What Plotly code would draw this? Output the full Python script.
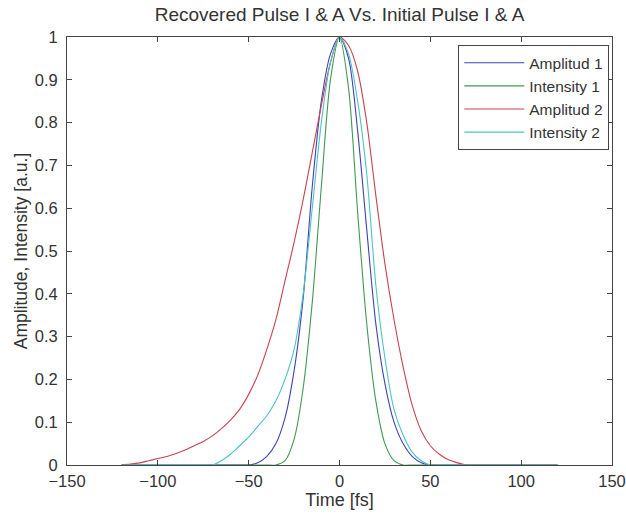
import plotly.graph_objects as go

time_fs = list(range(-120, 125, 5))

amplitud_1 = [0]*14 + [0.0, 0.005, 0.02, 0.05, 0.11, 0.22, 0.39, 0.65, 0.85, 0.96, 1.0,
                       0.95, 0.78, 0.55, 0.33, 0.19, 0.10, 0.05, 0.02, 0.005, 0.0] + [0]*14

intensity_1 = [0]*17 + [0.0, 0.01, 0.06, 0.18, 0.38, 0.65, 0.90, 1.0,
                        0.88, 0.59, 0.33, 0.15, 0.05, 0.01, 0.0] + [0]*17

amplitud_2 = [0.0, 0.002, 0.005, 0.01, 0.015, 0.02, 0.027, 0.035, 0.045, 0.055, 0.068, 0.085,
              0.105, 0.13, 0.165, 0.21, 0.27, 0.34, 0.43, 0.52, 0.62, 0.73, 0.84, 0.94, 1.0,
              0.98, 0.92, 0.80, 0.63, 0.47, 0.34, 0.23, 0.14, 0.08, 0.045, 0.025, 0.012, 0.005,
              0.0] + [0]*10

intensity_2 = [0]*10 + [0.0, 0.01, 0.025, 0.045, 0.065, 0.09, 0.115, 0.15, 0.20, 0.27, 0.40, 0.60,
                        0.80, 0.94, 1.0, 0.96, 0.85, 0.68, 0.42, 0.25, 0.13, 0.07, 0.03, 0.01,
                        0.0] + [0]*14

series = [
    ("Amplitud 1", amplitud_1, "#4040b8"),
    ("Intensity 1", intensity_1, "#3f9a50"),
    ("Amplitud 2", amplitud_2, "#c8434f"),
    ("Intensity 2", intensity_2, "#4cc3c3"),
]

x_ticks = [-150, -100, -50, 0, 50, 100, 150]
y_ticks = [0, 0.1, 0.2, 0.3, 0.4, 0.5, 0.6, 0.7, 0.8, 0.9, 1]
y_tick_labels = ["0", "0.1", "0.2", "0.3", "0.4", "0.5", "0.6", "0.7", "0.8", "0.9", "1"]

fig = go.Figure()
for name, vals, color in series:
    fig.add_trace(go.Scatter(
        x=time_fs, y=vals, name=name, mode="lines",
        line=dict(color=color, width=1.1, shape="spline", smoothing=0.8),
    ))

font_family = "Liberation Sans, Arial, sans-serif"
axis_common = dict(
    showline=True, linecolor="#444", linewidth=1, mirror="ticks",
    ticks="inside", ticklen=5, tickcolor="#444", showgrid=False, zeroline=False,
    automargin=False,
    tickfont=dict(size=16.5, color="#333", family=font_family),
)

fig.update_layout(
    width=626, height=516,
    margin=dict(l=67, r=14, t=37, b=51),
    paper_bgcolor="white", plot_bgcolor="white",
    title=dict(text="Recovered Pulse I &amp; A Vs. Initial Pulse I &amp; A",
               xref="paper", x=0.5, xanchor="center", y=0.973, yanchor="middle",
               font=dict(size=19, color="#333", family=font_family)),
    xaxis=dict(range=[-150, 150], tickvals=x_ticks, ticklabelstandoff=1,
               title=dict(text="Time [fs]", standoff=4,
                          font=dict(size=18, color="#333", family=font_family)),
               **axis_common),
    yaxis=dict(range=[0, 1], tickvals=y_ticks, ticktext=y_tick_labels, ticklabelstandoff=5,
               title=dict(text="Amplitude, Intensity [a.u.]", standoff=2,
                          font=dict(size=17.5, color="#333", family=font_family)),
               **axis_common),
    legend=dict(x=0.995, y=0.981, xanchor="right", yanchor="top",
                bordercolor="#444", borderwidth=1, bgcolor="white",
                font=dict(size=15.5, color="#333", family=font_family),
                itemwidth=60, tracegroupgap=0),
    showlegend=True,
)

fig.write_html("out.html",
               config={"displayModeBar": False},
               post_script="document.body.style.margin='0px';document.body.style.overflow='hidden';")
